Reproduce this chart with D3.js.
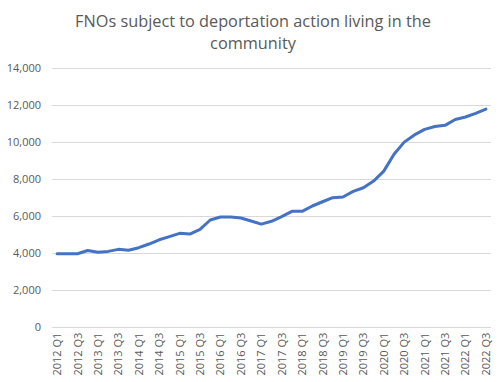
<!DOCTYPE html>
<html><head><meta charset="utf-8">
<script src="https://cdn.jsdelivr.net/npm/d3@7"></script>
<style>body{margin:0;background:#fff;} svg{display:block;}</style>
</head><body>
<svg id="c" width="502" height="382"></svg>
<script>
const years = [2012,2013,2014,2015,2016,2017,2018,2019,2020,2021,2022];
const quarters = [];
years.forEach(y => ["Q1","Q2","Q3","Q4"].forEach(q => { if (!(y === 2022 && q === "Q4")) quarters.push(y + " " + q); }));
const values = [3950,3950,3950,4130,4030,4080,4190,4140,4280,4480,4710,4880,5060,5020,5270,5780,5940,5940,5890,5730,
  5560,5710,5960,6250,6250,6540,6770,6990,7030,7330,7530,7890,8430,9340,10000,10390,10690,10850,10910,11230,11360,11560,11790];
const yTicks = [0,2000,4000,6000,8000,10000,12000,14000];
const title = ["FNOs subject to deportation action living in the", "community"];

const svg = d3.select("#c");
const mLeft = 52, mRight = 491, mTop = 68.3, mBottom = 326.7;
const x = d3.scaleBand().domain(quarters).range([mLeft, mRight]);
const y = d3.scaleLinear().domain([0,14000]).range([mBottom, mTop]);
const font = "'Open Sans', 'Liberation Sans', sans-serif";

svg.append("g").selectAll("text").data(title).join("text")
  .attr("x", 253).attr("y", (d,i) => 27 + i*22)
  .attr("text-anchor","middle").attr("font-family", font).attr("font-size", 16.3)
  .attr("fill","#595959").text(d => d);

svg.append("g").selectAll("line").data(yTicks).join("line")
  .attr("x1", mLeft).attr("x2", mRight).attr("y1", d => Math.round(y(d)) + 0.5).attr("y2", d => Math.round(y(d)) + 0.5)
  .attr("stroke","#d9d9d9").attr("stroke-width",1);

svg.append("g").selectAll("text").data(yTicks).join("text")
  .attr("x", 41).attr("y", d => y(d) + 4)
  .attr("text-anchor","end").attr("font-family", font).attr("font-size", 11)
  .attr("fill","#595959").text(d => d3.format(",")(d));

const xl = quarters.filter((d,i) => i % 2 === 0);
svg.append("g").selectAll("text").data(xl).join("text")
  .attr("transform", d => `translate(${x(d) + x.bandwidth()/2 + 4},${mBottom + 6}) rotate(-90)`)
  .attr("text-anchor","end").attr("font-family", font).attr("font-size", 11)
  .attr("fill","#595959").text(d => d);

svg.append("path").datum(values)
  .attr("d", d3.line().x((d,i) => x(quarters[i]) + x.bandwidth()/2).y(d => y(d)))
  .attr("fill","none").attr("stroke","#4472c4").attr("stroke-width",3).attr("stroke-linejoin","round").attr("stroke-linecap","round");
</script>
</body></html>
